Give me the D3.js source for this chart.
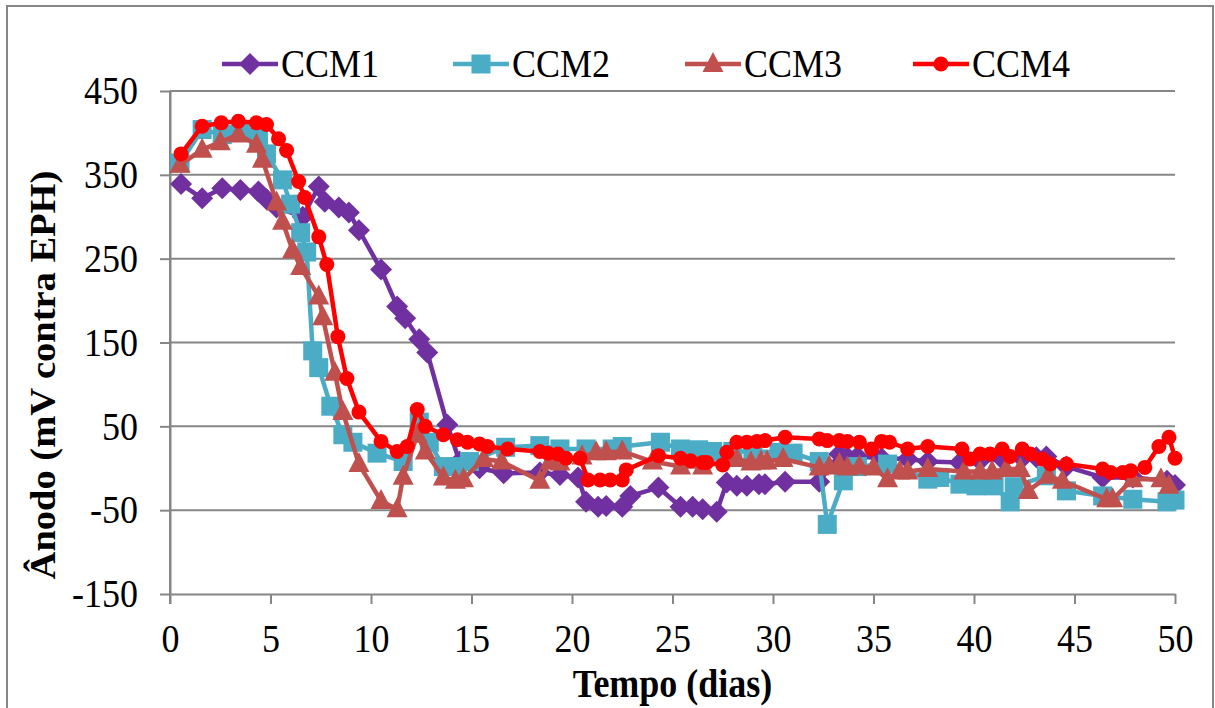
<!DOCTYPE html>
<html>
<head>
<meta charset="utf-8">
<script src="https://cdn.jsdelivr.net/npm/d3@7"></script>
<style>
  body { margin: 0; background: #fff; }
  svg text { font-family: "Liberation Serif", "Times New Roman", serif; fill: #000; }
</style>
</head>
<body>
<div id="container"></div>
<script>
// series data (days, anode potential mV vs EPH)
const ccm1Dias = [0.55,1.6,2.6,3.5,4.4,4.8,5.3,6.6,7.4,7.7,8.4,8.9,9.4,10.5,11.3,11.7,12.4,12.8,13.8,14.4,15.4,16.6,18.4,19.4,20.3,20.7,21.3,21.7,22.5,22.9,24.3,25.4,26.0,26.5,27.2,27.7,28.2,28.7,29.3,29.6,30.6,32.3,33.3,33.7,34.2,35.4,36.7,37.7,39.3,40.3,41.4,42.4,43.1,43.6,44.6,46.4,47.9,49.6,50]
const ccm1Valores = [339,322,334,332,330,321,311,300,336,318,311,305,284,237,193,179,154,138,52,8,0,-6,-5,-8,-11,-40,-46,-45,-46,-33,-23,-46,-46,-49,-52,-17,-21,-21,-19,-19,-16,-16,17,13,14,12,11,8,7,9,11,12,13,14,2,-11,-11,-15,-20]

const ccm2Dias = [0.5,1.6,2.6,3.5,4.4,4.8,5.6,6.0,6.5,6.8,7.1,7.4,8.0,8.6,9.1,10.3,11.6,12.4,12.9,13.6,14.3,14.9,16.7,18.4,19.4,20.7,22.0,22.5,24.4,25.4,26.3,27.0,28.0,29.0,30.3,31.0,32.3,32.7,33.5,34.2,35.7,37.7,38.3,39.3,40.1,41.0,41.8,42.0,43.6,44.6,46.4,47.9,49.6,50]
const ccm2Valores = [364,404,398,403,395,375,344,315,281,258,140,120,74,40,31,18,8,55,31,2,2,8,25,27,23,23,23,26,31,23,22,20,20,20,19,18,8,-67,-15,2,5,-13,-11,-19,-21,-21,-40,-22,-9,-27,-33,-37,-40,-38]

const ccm3Dias = [0.5,1.6,2.5,3.4,4.3,4.6,5.3,5.6,6.1,6.5,7.4,7.6,8.2,8.6,9.4,10.5,11.3,11.6,12.3,12.7,13.6,14.2,14.6,15.6,16.5,18.4,18.9,19.4,20.5,21.2,21.7,22.5,24.0,25.4,26.5,28.2,28.9,29.4,29.7,30.5,32.3,32.8,33.3,33.7,34.3,35.0,35.7,36.3,36.7,37.7,39.5,40.3,40.9,41.6,42.3,42.7,43.7,44.4,46.6,46.9,47.9,49.3,49.7]
const ccm3Valores = [362,380,389,398,386,368,317,294,260,240,205,180,114,67,5,-39,-49,-10,40,20,-11,-15,-13,11,8,-15,8,7,14,19,19,20,8,2,2,11,7,8,8,11,1,2,5,1,2,1,-13,-4,-4,-1,-4,-4,-4,-1,-1,-27,-9,-15,-37,-37,-13,-13,-21]

const ccm4Dias = [0.55,1.6,2.55,3.4,4.3,4.8,5.4,5.8,6.4,6.7,7.4,7.8,8.35,8.8,9.4,10.5,11.3,11.8,12.3,12.7,13.6,14.3,14.8,15.4,15.8,16.8,18.4,18.8,19.3,19.7,20.4,20.8,21.4,21.9,22.5,22.7,24.3,25.4,25.9,26.5,26.7,27.5,27.7,28.2,28.7,29.2,29.6,30.6,32.3,32.7,33.3,33.7,34.3,34.9,35.4,35.8,36.7,37.7,39.4,39.8,40.3,40.8,41.4,41.8,42.4,42.8,43.4,43.8,44.6,46.4,46.8,47.4,47.8,48.5,49.2,49.7,50]
const ccm4Valores = [375,408,412,414,412,410,393,379,342,323,276,243,157,107,67,32,20,26,70,50,40,34,31,29,26,23,20,18,17,12,12,-14,-14,-14,-14,-2,15,12,9,7,7,4,19,31,31,32,33,37,35,33,33,32,31,23,32,31,23,26,23,11,17,17,23,14,23,17,11,5,5,-1,-5,-5,-3,1,26,37,12]

const xTicks = [0,5,10,15,20,25,30,35,40,45,50]
const yTicks = [-150,-50,50,150,250,350,450]

const width = 1215
const height = 708
const grey = "#868686"
const stretch = "scale(1,1.1)"   // the original picture is a bit taller than wide
const serif = "'Liberation Serif', 'Times New Roman', serif"

const plot = { left: 170, right: 1175, top: 91, bottom: 594 }

const series = [
    { name: "CCM1", dias: ccm1Dias, valores: ccm1Valores, color: "#7030A0", shape: "diamond" },
    { name: "CCM2", dias: ccm2Dias, valores: ccm2Valores, color: "#4BACC6", shape: "square" },
    { name: "CCM3", dias: ccm3Dias, valores: ccm3Valores, color: "#C0504D", shape: "triangle" },
    { name: "CCM4", dias: ccm4Dias, valores: ccm4Valores, color: "#FF0000", shape: "circle" },
]

const svg = d3.select("#container").append("svg")
    .attr("width", width).attr("height", height)

svg.append("rect")
    .attr("x", 7).attr("y", 6).attr("width", 1206).attr("height", 720)
    .attr("fill", "#fff").attr("stroke", grey).attr("stroke-width", 2)

const x = d3.scaleLinear().domain([0, 50]).range([plot.left, plot.right])
const y = d3.scaleLinear().domain([-150, 450]).range([plot.bottom, plot.top])

// gridlines
svg.append("g").selectAll("line")
    .data(yTicks.filter(d => d > -150))
    .join("line")
    .attr("x1", plot.left).attr("x2", plot.right)
    .attr("y1", d => y(d)).attr("y2", d => y(d))
    .attr("stroke", grey).attr("stroke-width", 2)

const yAxis = svg.append("g")
    .attr("transform", `translate(${plot.left},0)`)
    .call(d3.axisLeft(y).tickValues(yTicks).tickFormat(d => String(d))
        .tickSize(10).tickSizeOuter(0).tickPadding(22))
const xAxis = svg.append("g")
    .attr("transform", `translate(0,${plot.bottom})`)
    .call(d3.axisBottom(x).tickValues(xTicks).tickSize(10).tickSizeOuter(0).tickPadding(17))

for (const ax of [xAxis, yAxis]) {
    ax.attr("font-family", serif).attr("font-size", 36)
    ax.select(".domain").attr("stroke", grey).attr("stroke-width", 2)
    ax.selectAll(".tick line").attr("stroke", grey).attr("stroke-width", 2)
    ax.selectAll(".tick text").style("font-family", serif).attr("font-size", 36)
        .attr("fill", "#000").attr("transform", stretch)
}
// y axis continues down into the x=0 tick
svg.append("line")
    .attr("x1", plot.left).attr("x2", plot.left)
    .attr("y1", plot.top).attr("y2", plot.bottom + 10)
    .attr("stroke", grey).attr("stroke-width", 2)

function marker(sel, shape, color) {
    if (shape === "diamond") {
        sel.append("path").attr("d", "M0,-11L11,0L0,11L-11,0Z").attr("fill", color)
    } else if (shape === "square") {
        sel.append("rect").attr("x", -9.5).attr("y", -9.5).attr("width", 19).attr("height", 19).attr("fill", color)
    } else if (shape === "triangle") {
        sel.append("path").attr("d", "M0,-12L10.5,8L-10.5,8Z").attr("fill", color)
    } else {
        sel.append("circle").attr("r", 7.5).attr("fill", color)
    }
}

const line = d3.line().x(d => x(d[0])).y(d => y(d[1]))

series.forEach(s => {
    const pts = s.dias.map((d, i) => [d, s.valores[i]])
    const g = svg.append("g")
    g.append("path")
        .attr("d", line(pts))
        .attr("fill", "none")
        .attr("stroke", s.color)
        .attr("stroke-width", 4.5)
        .attr("stroke-linejoin", "round")
    g.selectAll("g.pt")
        .data(pts)
        .join("g")
        .attr("class", "pt")
        .attr("transform", d => `translate(${x(d[0])},${y(d[1])})`)
        .each(function() { marker(d3.select(this), s.shape, s.color) })
})

// legend
const legendX = [222, 453, 685, 913]
const legend = svg.append("g")
series.forEach((s, i) => {
    const g = legend.append("g").attr("transform", `translate(${legendX[i]},64)`)
    g.append("line").attr("x1", 0).attr("x2", 56).attr("y1", 0).attr("y2", 0)
        .attr("stroke", s.color).attr("stroke-width", 4.5)
    marker(g.append("g").attr("transform", "translate(28,0)"), s.shape, s.color)
    g.append("text").attr("transform", `translate(59,13) ${stretch}`)
        .style("font-family", serif).attr("font-size", 36).text(s.name)
})

// axis titles
svg.append("text")
    .attr("transform", `translate(${(plot.left + plot.right) / 2},697) ${stretch}`)
    .attr("text-anchor", "middle").style("font-family", serif)
    .attr("font-size", 36).attr("font-weight", "bold")
    .text("Tempo (dias)")

svg.append("text")
    .attr("transform", `translate(55,375) ${stretch} rotate(-90)`)
    .attr("text-anchor", "middle").style("font-family", serif)
    .attr("font-size", 35).attr("font-weight", "bold")
    .text("Ânodo (mV contra EPH)")
</script>
</body>
</html>
